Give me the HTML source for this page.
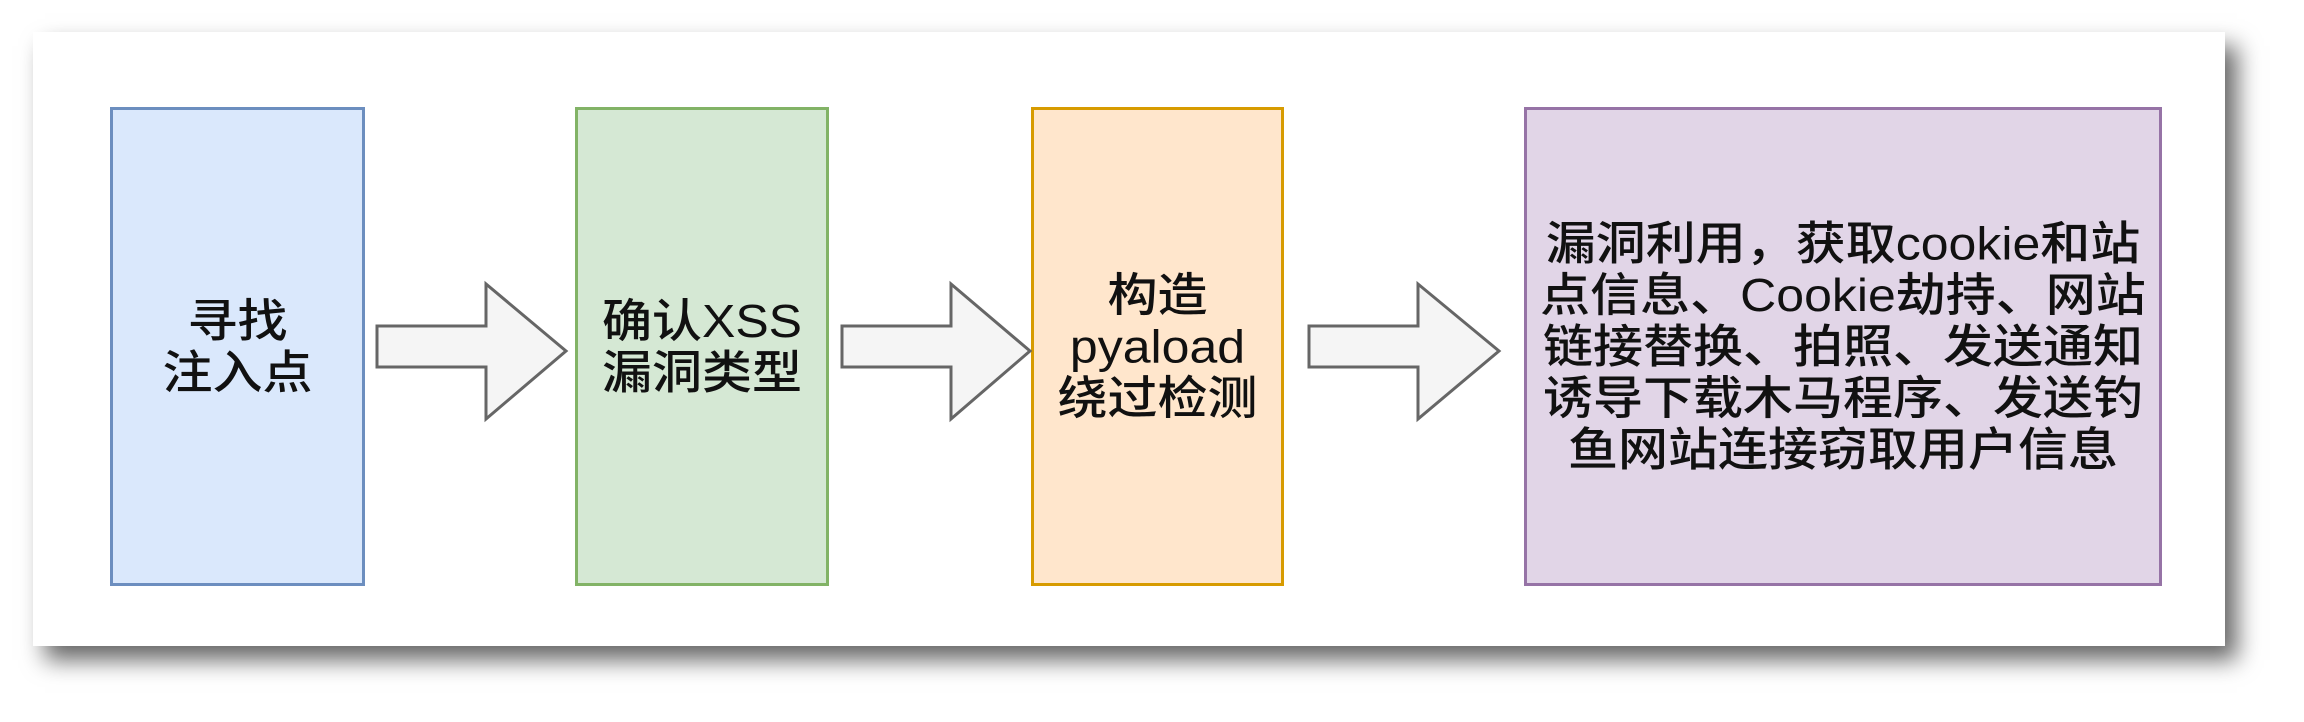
<!DOCTYPE html>
<html><head><meta charset="utf-8"><style>
html,body{margin:0;padding:0;background:#fff;width:2304px;height:722px;overflow:hidden}
.card{position:absolute;left:33px;top:32px;width:2192px;height:614px;background:#fff;box-shadow:12px 14px 22px rgba(0,0,0,0.6)}
.box{position:absolute;box-sizing:border-box;border:3px solid;display:flex;align-items:center;justify-content:center;text-align:center;font-family:"Liberation Sans","Noto Sans CJK SC",sans-serif;font-size:50px;line-height:56px;color:#111;font-weight:500}
.box span{display:inline-block;transform:scaleY(0.92)}
svg{position:absolute;left:0;top:0}
</style></head><body>
<div class="card"></div>
<div class="box" style="left:110px;top:107px;width:255px;height:479px;background:#dae8fc;border-color:#6c8ebf"><span>寻找<br>注入点</span></div>
<div class="box" style="left:575px;top:107px;width:254px;height:479px;background:#d5e8d4;border-color:#82b366"><span>确认XSS<br>漏洞类型</span></div>
<div class="box" style="left:1031px;top:107px;width:253px;height:479px;background:#ffe6cc;border-color:#d79b00"><span>构造<br>pyaload<br>绕过检测</span></div>
<div class="box" style="left:1524px;top:107px;width:638px;height:479px;background:#e1d5e7;border-color:#9673a6"><span>漏洞利用，获取cookie和站<br>点信息、Cookie劫持、网站<br>链接替换、拍照、发送通知<br>诱导下载木马程序、发送钓<br>鱼网站连接窃取用户信息</span></div>
<svg width="2304" height="722">
<g fill="#f5f5f5" stroke="#666" stroke-width="3" stroke-linejoin="miter">
<polygon points="377,326 486,326 486,284 566,351 486,419 486,367 377,367"/>
<polygon points="842,326 951,326 951,284 1030,351 951,419 951,367 842,367"/>
<polygon points="1309,326 1418,326 1418,284 1499,351 1418,419 1418,367 1309,367"/>
</g></svg>
</body></html>
